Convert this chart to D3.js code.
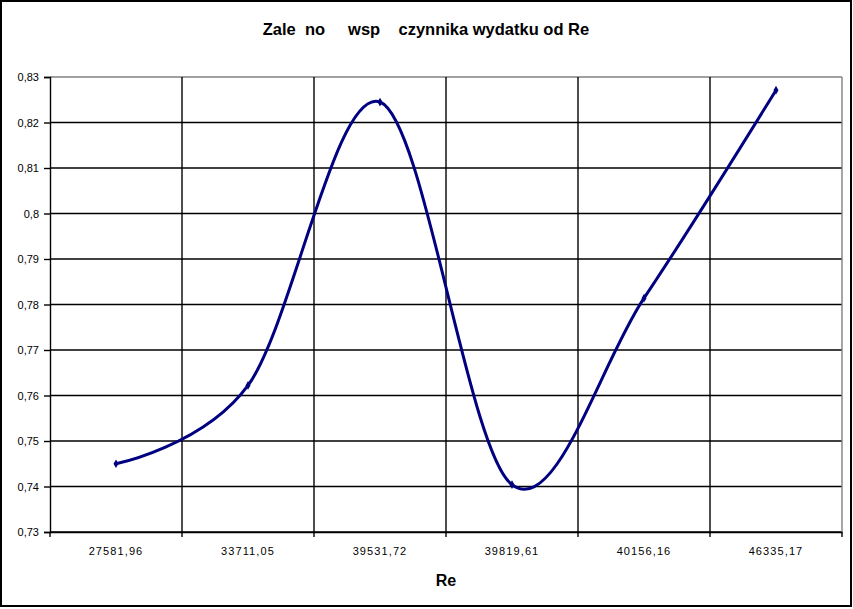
<!DOCTYPE html>
<html>
<head>
<meta charset="utf-8">
<script src="https://cdn.jsdelivr.net/npm/d3@7"></script>
<style>
  body { margin: 0; background: #fff; }
  svg { display: block; font-family: "Liberation Sans", Arial, sans-serif; }
</style>
</head>
<body>
<svg id="chart" width="853" height="609"></svg>
<script>
// data
const categories = ["27581,96", "33711,05", "39531,72", "39819,61", "40156,16", "46335,17"]
const values = [0.745, 0.7622, 0.8245, 0.7404, 0.7814, 0.8271]
const yTicks = [0.73, 0.74, 0.75, 0.76, 0.77, 0.78, 0.79, 0.8, 0.81, 0.82, 0.83]

const svg = d3.select("#chart")
let margin = {top: 77, right: 11, bottom: 77, left: 50}
  , width = 853 - margin.left - margin.right
  , height = 609 - margin.top - margin.bottom

// outer frame
svg.append("rect")
  .attr("x", 1).attr("y", 1)
  .attr("width", 850).attr("height", 605)
  .attr("fill", "none").attr("stroke", "#000").attr("stroke-width", 2)

svg.append("text")
  .attr("x", 426).attr("y", 35)
  .attr("text-anchor", "middle")
  .attr("font-size", 16.5).attr("font-weight", "bold")
  .attr("xml:space", "preserve")
  .text("Zale  no     wsp    czynnika wydatku od Re")

const g = svg.append("g")
  .attr("transform", "translate(" + margin.left + "," + margin.top + ")")

let xScale = d3.scaleBand()
  .domain(categories)
  .range([0, width])

let yScale = d3.scaleLinear()
  .domain([0.73, 0.83])
  .range([height, 0])

// horizontal gridlines
g.selectAll(".hgrid")
  .data(yTicks)
  .enter().append("line")
  .attr("x1", 0).attr("x2", width)
  .attr("y1", d => yScale(d)).attr("y2", d => yScale(d))
  .attr("stroke", d => d === 0.83 ? "#808080" : "#000")
  .attr("stroke-width", 1.4)

// vertical gridlines at category boundaries
const bounds = categories.slice(1).map(c => xScale(c)).concat([width])
g.selectAll(".vgrid")
  .data(bounds)
  .enter().append("line")
  .attr("x1", d => d).attr("x2", d => d)
  .attr("y1", 0).attr("y2", height)
  .attr("stroke", (d, i) => i === bounds.length - 1 ? "#808080" : "#000")
  .attr("stroke-width", 1.4)

// y axis
const yAxis = g.append("g")
  .call(d3.axisLeft(yScale).tickValues(yTicks).tickSize(6).tickPadding(5)
    .tickFormat(d => String(+d.toFixed(2)).replace(".", ",")))
yAxis.select(".domain").attr("stroke-width", 1.4)
yAxis.selectAll(".tick line").attr("stroke-width", 1.4)
yAxis.selectAll("text").attr("font-size", 11).attr("font-family", "Liberation Sans, Arial, sans-serif")

// x axis
const xAxis = g.append("g")
  .attr("transform", "translate(0," + height + ")")
  .call(d3.axisBottom(xScale).tickSize(0).tickPadding(15))
xAxis.select(".domain").attr("stroke-width", 1.4)
xAxis.selectAll("text").attr("font-size", 11).attr("letter-spacing", "1.1px")
  .attr("font-family", "Liberation Sans, Arial, sans-serif")
g.selectAll(".xtick")
  .data([0].concat(bounds))
  .enter().append("line")
  .attr("x1", d => d).attr("x2", d => d)
  .attr("y1", height).attr("y2", height + 5)
  .attr("stroke", "#000").attr("stroke-width", 1.4)

svg.append("text")
  .attr("x", margin.left + width / 2).attr("y", 586)
  .attr("text-anchor", "middle")
  .attr("font-size", 16).attr("font-weight", "bold")
  .text("Re")

let line = d3.line()
  .x((d, i) => xScale(categories[i]) + xScale.bandwidth() / 2)
  .y(d => yScale(d))
  .curve(d3.curveCardinal.tension(0))

g.append("path")
  .datum(values)
  .attr("fill", "none")
  .attr("stroke", "#000080")
  .attr("stroke-width", 3)
  .attr("stroke-linejoin", "round")
  .attr("d", line)

g.selectAll(".dot")
  .data(values)
  .enter().append("path")
  .attr("transform", (d, i) => "translate(" + (xScale(categories[i]) + xScale.bandwidth() / 2) + "," + yScale(d) + ")")
  .attr("d", d3.symbol(d3.symbolDiamond, 22))
  .attr("fill", "#000080")
</script>
</body>
</html>
